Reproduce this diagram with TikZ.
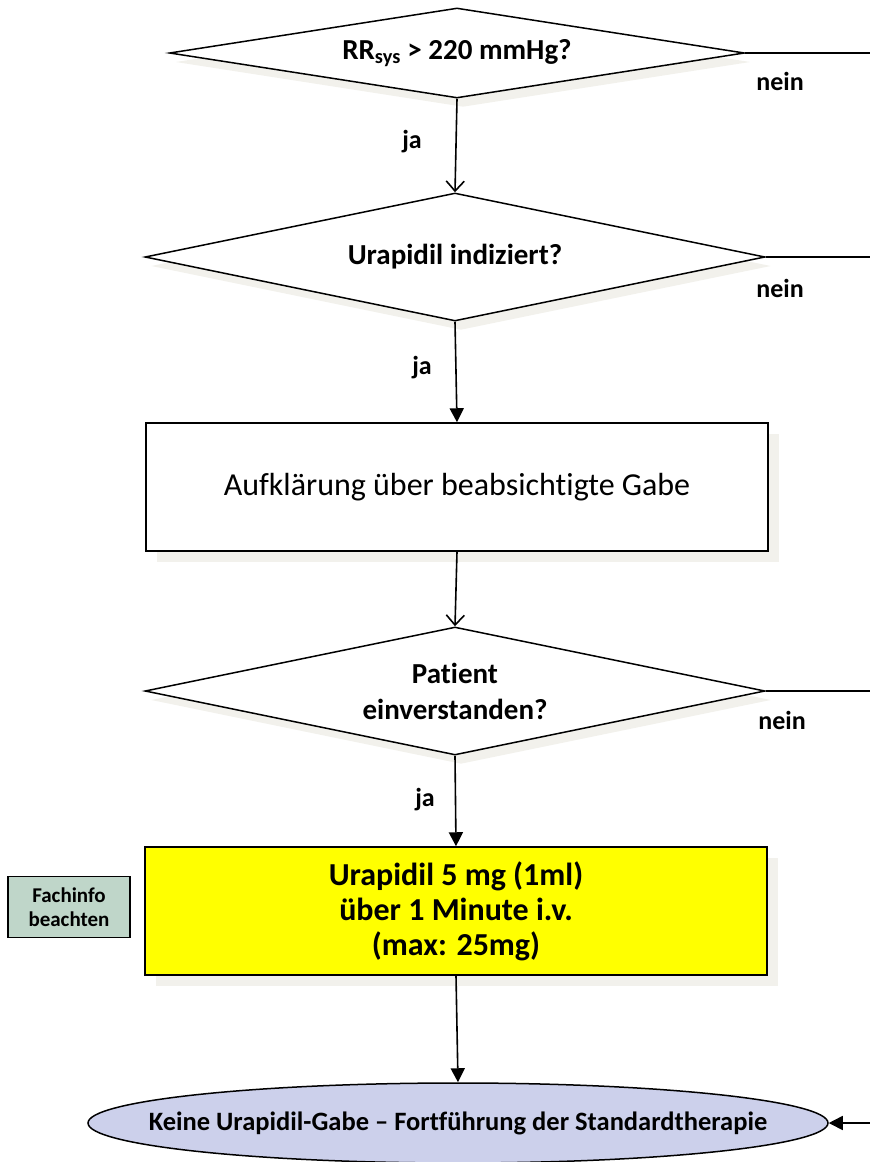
\documentclass[tikz,border=0pt]{standalone}
\usepackage{fontspec}
\setmainfont{Carlito}[Ligatures=NoCommon]
\usetikzlibrary{shapes.geometric,arrows.meta,shadows}
\definecolor{shadowgray}{HTML}{F2F1EC}
\definecolor{infogreen}{HTML}{BFD6C9}
\definecolor{endlilac}{HTML}{CCD0EB}
\definecolor{doseyellow}{HTML}{FFFF00}
\tikzset{
  base/.style={draw=black, line width=1.5pt, fill=white, inner sep=0pt, align=center},
  boxshadow/.style={general shadow={fill=shadowgray, shadow xshift=11pt, shadow yshift=-11pt}},
  diamondshadow/.style={general shadow={fill=shadowgray, shadow xshift=6pt, shadow yshift=-9pt}},
  decision/.style={base, diamond, diamondshadow, font=\bfseries\fontsize{29}{36}\selectfont},
  procbox/.style={base, rectangle, boxshadow, minimum width=622pt, minimum height=128pt},
  terminal/.style={base, ellipse, fill=endlilac, minimum width=740pt, minimum height=80pt,
    font=\bfseries\fontsize{26.5}{30}\selectfont},
  infobox/.style={base, rectangle, fill=infogreen, minimum width=122pt, minimum height=61pt,
    font=\bfseries\fontsize{21}{24}\selectfont},
  flow/.style={line width=1.6pt},
  openarrow/.style={flow, -{Straight Barb[length=10pt,width=18pt,line width=1.6pt]}},
  filledarrow/.style={flow, -{Triangle[length=14pt,width=14pt]}},
  edgelabel/.style={font=\bfseries\fontsize{26}{30}\selectfont, inner sep=0pt},
}
\begin{document}
\begin{tikzpicture}[x=1pt,y=-1pt]
  \useasboundingbox (0,0) rectangle (870,1162);
  \clip (0,0) rectangle (870,1162);

  % decisions and steps
  \node[decision, aspect=6.39, minimum width=575pt, minimum height=90pt] (q1) at (457,53)
    {RR\textsubscript{sys} > 220 mmHg?};
  \node[decision, aspect=4.84, minimum width=620pt, minimum height=128pt] (q2) at (455,257)
    {Urapidil indiziert?};
  \node[procbox, font=\fontsize{32}{38}\selectfont] (info) at (457,487)
    {Aufklärung über beabsichtigte Gabe};
  \node[decision, aspect=4.84, minimum width=620pt, minimum height=128pt] (q3) at (455,691)
    {Patient\\einverstanden?};
  \node[procbox, fill=doseyellow, font=\bfseries\fontsize{32}{35}\selectfont] (dose) at (456,911)
    {Urapidil 5 mg (1ml)\\über 1 Minute i.v.\\(max: 25mg)};
  \node[infobox] (fachinfo) at (69,907) {Fachinfo\\beachten};
  % the label is given zero width so the ellipse keeps its set size
  \node[terminal] (stop) at (458,1123)
    {\makebox[0pt]{Keine Urapidil-Gabe – Fortführung der Standardtherapie}};

  % "ja" branches
  \draw[openarrow] (q1.south) -- (q2.north);
  \draw[filledarrow] (q2.south) -- (info.north);
  \draw[openarrow] (info.south) -- (q3.north);
  \draw[filledarrow] (q3.south) -- (dose.north);
  \draw[filledarrow] (dose.south) -- (stop.north);
  \node[edgelabel] (ja1) at (412,142) {ja};
  \node[edgelabel] (ja2) at (422,368) {ja};
  \node[edgelabel] (ja3) at (425,800) {ja};

  % "nein" branches run along the right margin to the end node
  \coordinate (rail) at (885,0);
  \draw[flow] (q1.east) -- (q1.east -| rail) -- (stop.east -| rail);
  \draw[flow] (q2.east) -- (q2.east -| rail);
  \draw[flow] (q3.east) -- (q3.east -| rail);
  \draw[filledarrow] (stop.east -| rail) -- (stop.east);
  \node[edgelabel] (nein1) at (780,81) {nein};
  \node[edgelabel] (nein2) at (780,288) {nein};
  \node[edgelabel] (nein3) at (782,720) {nein};
\end{tikzpicture}
\end{document}
